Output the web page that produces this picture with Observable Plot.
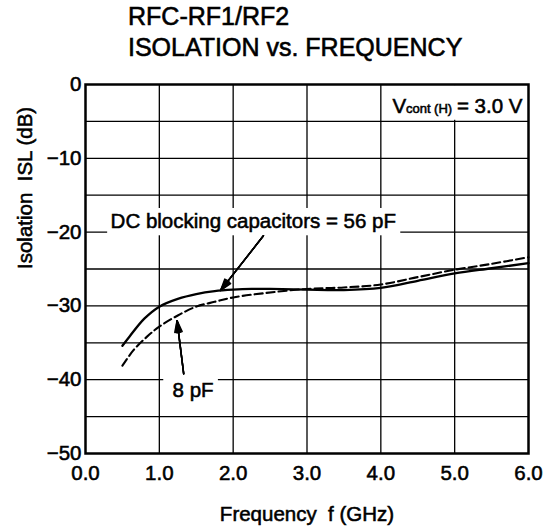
<!DOCTYPE html>
<html>
<head>
<meta charset="utf-8">
<script src="https://cdn.jsdelivr.net/npm/d3@7"></script>
<script src="https://cdn.jsdelivr.net/npm/@observablehq/plot@0.6"></script>
<style>
  html, body { margin: 0; padding: 0; background: #fff; }
  #wrap { width: 553px; height: 531px; font-family: "Liberation Sans", Arial, Helvetica, sans-serif; color: #000; }
  #title { height: 70px; box-sizing: border-box; padding: 1px 0 0 128px; font-size: 25px; line-height: 31px; white-space: pre; -webkit-text-stroke: 0.6px #000; }
  svg { display: block; }
  svg text { stroke: #000; stroke-width: 0.55px; }
</style>
</head>
<body>
<div id="wrap">
  <div id="title">RFC-RF1/RF2
ISOLATION vs. FREQUENCY</div>
  <div id="chart"></div>
</div>
<script>
// Series: DC blocking capacitors = 56 pF (solid)
const freq56 = [0.5, 0.6, 0.8, 1.0, 1.25, 1.5, 1.75, 2.0, 2.25, 2.5, 3.0, 3.5, 4.0, 4.5, 5.0, 5.5, 6.0];
const isl56  = [-35.4, -34.1, -31.7, -30.1, -29.05, -28.4, -28.0, -27.8, -27.7, -27.7, -27.8, -27.85, -27.55, -26.6, -25.6, -24.9, -24.2];
// Series: 8 pF (dashed)
const freq8 = [0.5, 0.65, 0.83, 1.0, 1.25, 1.5, 1.75, 2.0, 2.4, 3.0, 3.5, 4.0, 4.5, 5.0, 5.5, 6.0];
const isl8  = [-38.1, -36.0, -34.2, -32.8, -31.3, -30.1, -29.45, -28.85, -28.3, -27.7, -27.5, -27.1, -26.1, -25.1, -24.3, -23.4];

// Axes
const xTicks = [0, 1, 2, 3, 4, 5, 6];
const yTicks = [0, -10, -20, -30, -40, -50];
const xGrid = [1, 2, 3, 4, 5];
const yGrid = [-5, -10, -15, -20, -25, -30, -35, -40, -45];

// Texts
const xLabel = "Frequency\u00a0 f (GHz)";
const yLabel = "Isolation\u00a0 ISL (dB)";
const label56 = "DC blocking capacitors = 56 pF";
const label8 = "8 pF";
const condMain = "V";
const condSub = "cont (H)";
const condValue = "= 3.0 V";

// Annotation arrows (tail -> tip, in data units)
const arrowX1 = [2.41, 1.33];
const arrowY1 = [-20.5, -39.2];
const arrowX2 = [1.83, 1.24];
const arrowY2 = [-27.9, -32.0];

const s56 = freq56.map((f, i) => ({f, v: isl56[i]}));
const s8 = freq8.map((f, i) => ({f, v: isl8[i]}));
const arrows = arrowX1.map((x1, i) => ({x1, y1: arrowY1[i], x2: arrowX2[i], y2: arrowY2[i]}));

const fmtY = d => d === 0 ? "0" : "\u2212" + Math.abs(d);
const fmtX = d3.format(".1f");

const whiteBoxes = [
  {x1: 0.30, x2: 4.27, y1: -16.8, y2: -20.5},
  {x1: 1.06, x2: 1.80, y1: -39.0, y2: -42.8},
  {x1: 4.06, x2: 5.98, y1: -0.15, y2: -4.85}
];

const arrowMarks = [36, 27, 18, 9].map(a =>
  Plot.arrow(arrows, {x1: "x1", y1: "y1", x2: "x2", y2: "y2", stroke: "black", strokeWidth: 1.5, headAngle: a, headLength: 12})
);

const chart = Plot.plot({
  width: 553,
  height: 461,
  marginTop: 14,
  marginBottom: 78,
  marginLeft: 85,
  marginRight: 25,
  x: {domain: [0, 6]},
  y: {domain: [-50, 0]},
  style: {fontFamily: "'Liberation Sans', Arial, Helvetica, sans-serif", fontSize: "20.5px", color: "black", background: "white"},
  marks: [
    Plot.ruleX(xGrid, {stroke: "black", strokeWidth: 1.3}),
    Plot.ruleY(yGrid, {stroke: "black", strokeWidth: 1.3}),
    Plot.rect(whiteBoxes, {x1: "x1", x2: "x2", y1: "y1", y2: "y2", fill: "white"}),
    Plot.line(s56, {x: "f", y: "v", curve: "catmull-rom", stroke: "black", strokeWidth: 2.3}),
    Plot.line(s8, {x: "f", y: "v", curve: "catmull-rom", stroke: "black", strokeWidth: 2.1, strokeDasharray: "8,4"}),
    ...arrowMarks,
    Plot.text([label56], {x: 0.34, y: -18.56, text: d => d, textAnchor: "start", fontSize: 20.5, fill: "black"}),
    Plot.text([label8], {x: 1.18, y: -41.4, text: d => d, textAnchor: "start", fontSize: 20.5, fill: "black"}),
    Plot.text([condMain], {x: 4.158, y: -3.0, text: d => d, textAnchor: "start", fontSize: 20.5, fill: "black"}),
    Plot.text([condSub], {x: 4.34, y: -3.3, text: d => d, textAnchor: "start", fontSize: 13, fill: "black"}),
    Plot.text([condValue], {x: 5.03, y: -3.0, text: d => d, textAnchor: "start", fontSize: 20.5, fill: "black"}),
    Plot.frame({stroke: "black", strokeWidth: 2.5}),
    Plot.axisX({ticks: xTicks, tickSize: 0, tickPadding: 12, tickFormat: fmtX, fontSize: 20.5, label: null}),
    Plot.axisY({ticks: yTicks, tickSize: 0, tickPadding: 4, tickFormat: fmtY, fontSize: 20.5, label: null}),
    Plot.text([yLabel], {frameAnchor: "left", text: d => d, rotate: -90, dx: -60, fontSize: 20.5, fill: "black"}),
    Plot.text([xLabel], {frameAnchor: "bottom", lineAnchor: "middle", text: d => d, dy: 61, fontSize: 20.5, fill: "black"})
  ]
});
document.getElementById("chart").appendChild(chart);
</script>
</body>
</html>
